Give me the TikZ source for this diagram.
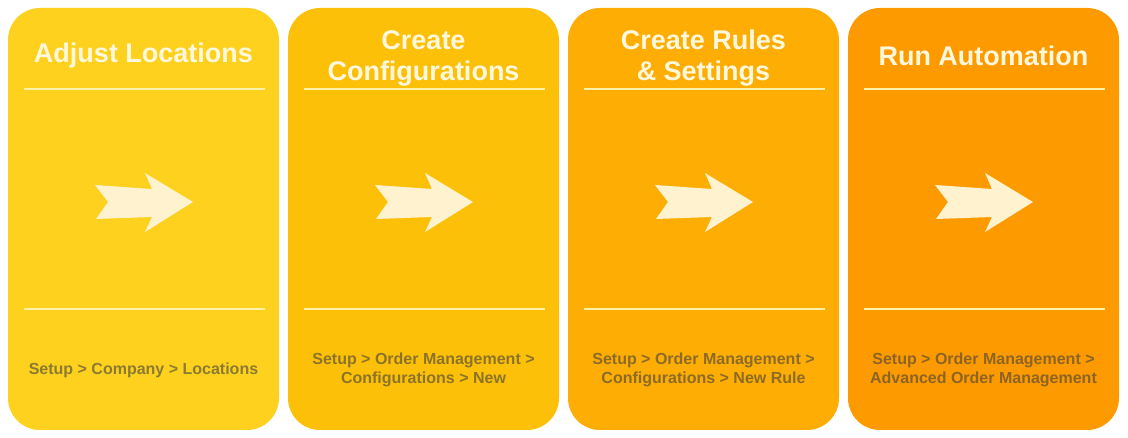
\documentclass[tikz,border=0pt]{standalone}
\usepackage{fontspec}
\setmainfont{Liberation Sans}
\begin{document}
\begin{tikzpicture}[x=1pt,y=-1pt,
  card/.style={rounded corners=32pt},
  sep/.style={draw=sepc,line width=2pt},
  title/.style={font=\bfseries\fontsize{27}{31}\selectfont,text=titlec,align=center},
  path/.style={font=\bfseries\fontsize{16}{19}\selectfont,text=black!75,text opacity=0.6,align=center},
  arr/.style={fill=arrc}]
\definecolor{c1}{HTML}{FDD11D}
\definecolor{c2}{HTML}{FDC009}
\definecolor{c3}{HTML}{FDAD03}
\definecolor{c4}{HTML}{FD9A00}
\definecolor{sepc}{HTML}{FFF2A8}
\definecolor{titlec}{HTML}{FFF8DC}
\definecolor{arrc}{HTML}{FEF2CF}
\useasboundingbox (0,0) rectangle (1128,438);
\foreach \i/\c in {0/c1,1/c2,2/c3,3/c4}{
  \begin{scope}[xshift=\i*280]
    \fill[\c,card] (8,8) rectangle (279,430);
    \draw[sep] (24,89) -- (265,89);
    \draw[sep] (24,309) -- (265,309);
    \fill[arr] (95,185) -- (152,189) -- (145,173) -- (193,202) -- (145,232) -- (152,217) -- (96,219) -- (108,202) -- cycle;
  \end{scope}
}
\node[title] (t1) at (143.5,56) {Adjust Locations};
\node[title] (t2) at (423.5,58) {Create\\Configurations};
\node[title] (t3) at (703.5,58) {Create Rules\\\& Settings};
\node[title] (t4) at (983.5,56) {Run Automation};
\node[path] (p1) at (143.5,370) {Setup > Company > Locations};
\node[path] (p2) at (423.5,369.5) {Setup > Order Management >\\Configurations > New};
\node[path] (p3) at (703.5,369.5) {Setup > Order Management >\\Configurations > New Rule};
\node[path] (p4) at (983.5,369.5) {Setup > Order Management >\\Advanced Order Management};
\end{tikzpicture}
\end{document}
